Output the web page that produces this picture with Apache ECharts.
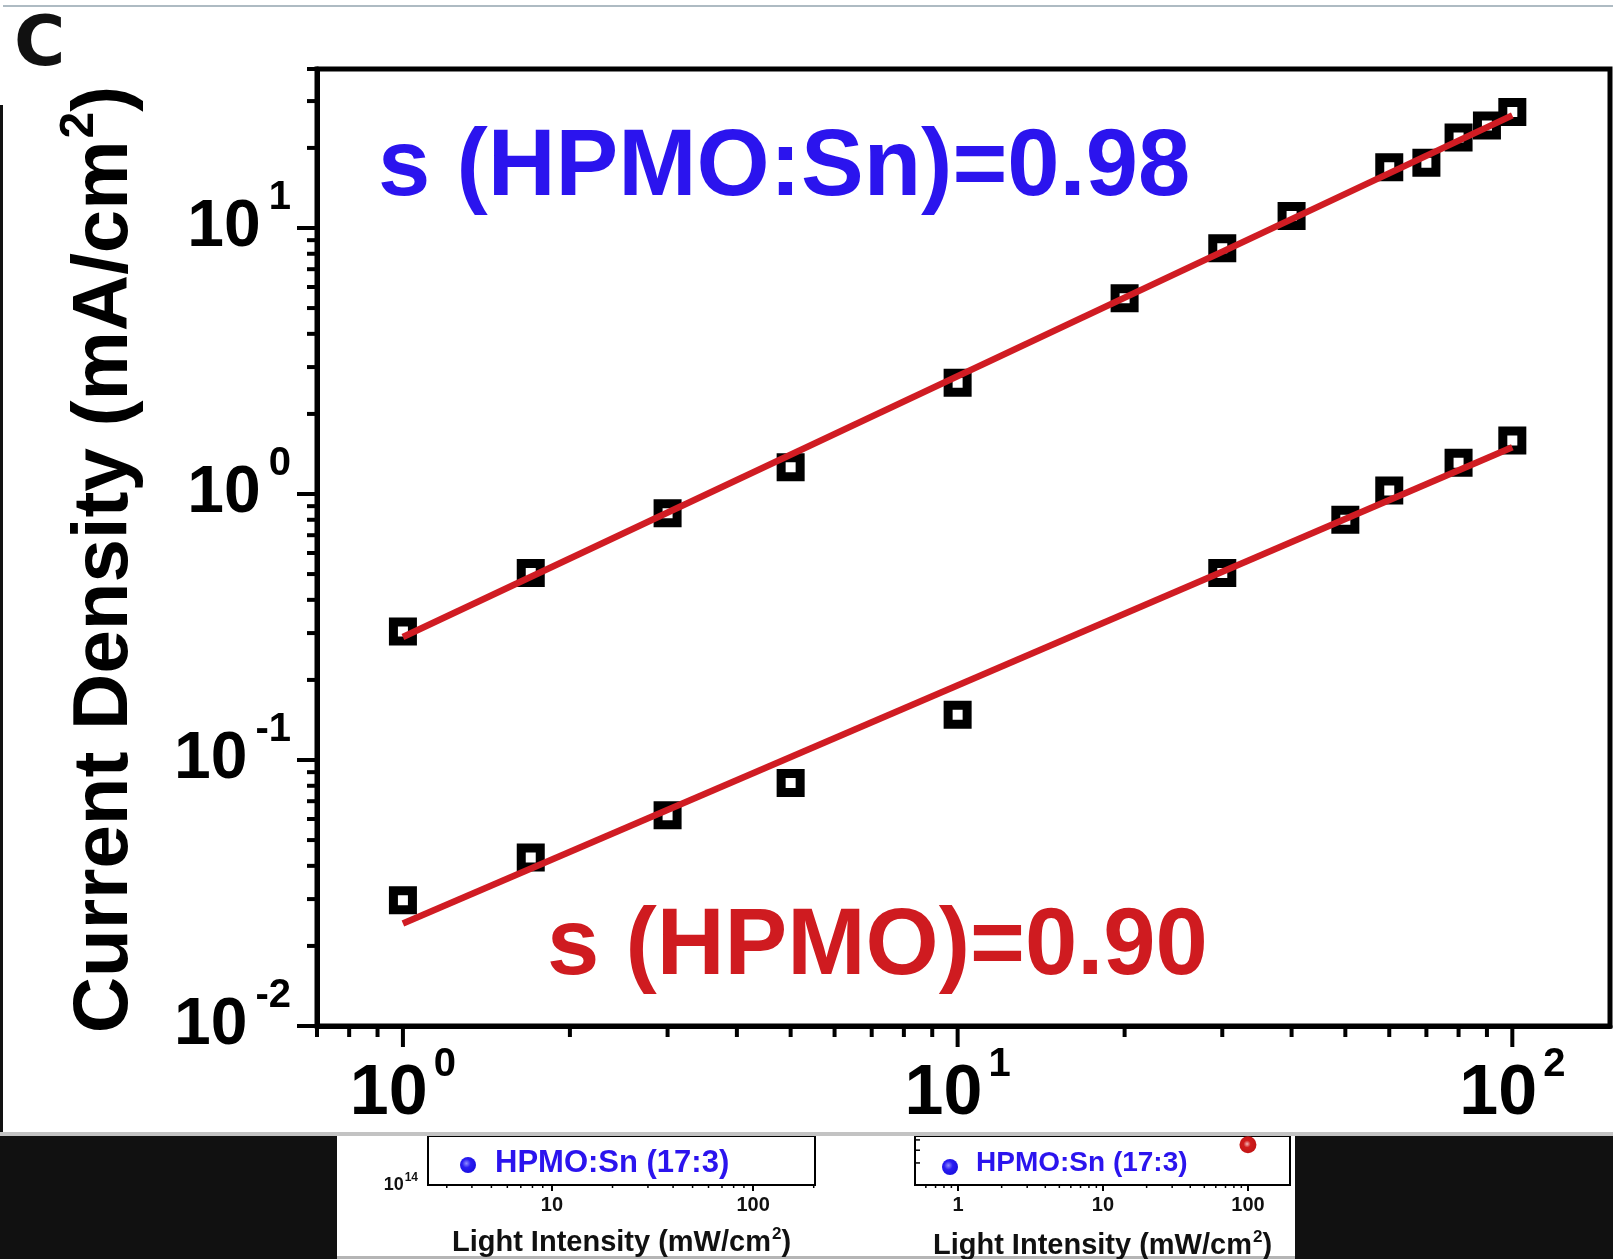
<!DOCTYPE html>
<html><head><meta charset="utf-8">
<script src="https://cdn.jsdelivr.net/npm/echarts@6/dist/echarts.min.js"></script>
<style>html,body{margin:0;padding:0;background:#fff}#c{width:1613px;height:1259px}</style>
</head><body><div id="c"></div>
<script>
// ---------------- data ----------------
const intensitySn = [1, 1.7, 3, 5, 10, 20, 30, 40, 60, 70, 80, 90, 100];
const currentSn   = [0.304, 0.505, 0.846, 1.26, 2.62, 5.44, 8.4, 11.1, 16.9, 17.6, 21.9, 24.3, 27.3];
const intensityHPMO = [1, 1.7, 3, 5, 10, 30, 50, 60, 80, 100];
const currentHPMO   = [0.0297, 0.043, 0.062, 0.082, 0.148, 0.505, 0.80, 1.03, 1.31, 1.59];
const fitSnX = [1, 100];
const fitSnY = [0.29, 26.5];
const fitHPMOX = [1, 100];
const fitHPMOY = [0.0243, 1.50];
const labelSn = 's (HPMO:Sn)=0.98';
const labelHPMO = 's (HPMO)=0.90';
const yAxisTitle = 'Current Density (mA/cm';
// tick values of main axes
const xMajorTicks = [1, 10, 100];
const xMinorTicks = [0.7, 0.8, 0.9, 2, 3, 4, 5, 6, 7, 8, 9, 20, 30, 40, 50, 60, 70, 80, 90];
const yMajorTicks = [0.01, 0.1, 1, 10];
const yMinorTicks = [0.02, 0.03, 0.04, 0.05, 0.06, 0.07, 0.08, 0.09, 0.2, 0.3, 0.4, 0.5, 0.6, 0.7, 0.8, 0.9,
                     2, 3, 4, 5, 6, 7, 8, 9, 20, 30, 39.6];
// bottom strip (parts of neighbouring panels)
const stripLegend = 'HPMO:Sn (17:3)';
const stripXTitle = 'Light Intensity (mW/cm';
const stripLeftMinor = [3, 4, 5, 6, 7, 8, 9, 20, 30, 40, 50, 60, 70, 80, 90, 200];
const stripRightMinor = [0.6, 0.7, 0.8, 0.9, 2, 3, 4, 5, 6, 7, 8, 9, 20, 30, 40, 50, 60, 70, 80, 90];
const stripRightYTicks = [0.45, 0.71, 0.92];
const stripRedPoint = [[100, 0.82]];

// ---------------- chart ----------------
const SANS = "'Liberation Sans', Arial, sans-serif";
const X_MIN = 0.7, X_MAX = 150, Y_MIN = 0.01, Y_MAX = 39.6;
const pairs = (xs, ys) => xs.map((x, i) => [x, ys[i]]);
const powLabel = v => '{b|10}{s|' + Math.round(Math.log10(v)) + '}';

function tickSeries(xi, yi, values, dir, fixed, len, width, z) {
  return {
    type: 'custom', xAxisIndex: xi, yAxisIndex: yi, silent: true, z: z, clip: false,
    data: values.map(v => dir === 'x' ? [v, fixed] : [fixed, v]),
    renderItem: (params, api) => {
      const p = api.coord([api.value(0), api.value(1)]);
      const shape = dir === 'x'
        ? { x1: p[0], y1: p[1], x2: p[0], y2: p[1] + len }
        : { x1: p[0], y1: p[1], x2: p[0] - len, y2: p[1] };
      return { type: 'line', shape: shape, style: { stroke: '#000', lineWidth: width } };
    }
  };
}

const mainRichY = {
  b: { fontSize: 66, fontFamily: SANS, fontWeight: 'bold', lineHeight: 66, color: '#000' },
  s: { fontSize: 40, fontFamily: SANS, fontWeight: 'bold', lineHeight: 40, padding: [0, 0, 60, 8], color: '#000' }
};
const mainRichX = {
  b: { fontSize: 70, fontFamily: SANS, fontWeight: 'bold', lineHeight: 70, color: '#000' },
  s: { fontSize: 40, fontFamily: SANS, fontWeight: 'bold', lineHeight: 40, padding: [0, 0, 60, 6], color: '#000' }
};
const stripNameRich = {
  n: { fontSize: 29, fontFamily: SANS, fontWeight: 'bold', lineHeight: 29, color: '#111' },
  s: { fontSize: 17, fontFamily: SANS, fontWeight: 'bold', lineHeight: 17, padding: [0, 0, 16, 1], color: '#111' }
};

const blueBall = new echarts.graphic.RadialGradient(0.4, 0.4, 0.6, [
  { offset: 0, color: '#8f8cff' }, { offset: 0.45, color: '#2a1cf2' }, { offset: 1, color: '#1a10e0' }]);
const redBall = new echarts.graphic.RadialGradient(0.45, 0.45, 0.6, [
  { offset: 0, color: '#f2b8b8' }, { offset: 0.35, color: '#d01c1c' }, { offset: 1, color: '#c01515' }]);

const option = {
  animation: false,
  backgroundColor: '#fff',
  grid: [
    { left: 317, right: 3, top: 69, bottom: 233, show: true, borderColor: '#000', borderWidth: 5, outerBoundsMode: 'none' },
    { left: 428, right: 798, top: 1136, bottom: 74, show: true, borderColor: '#000', borderWidth: 2, z: 60, outerBoundsMode: 'none' },
    { left: 915, right: 323, top: 1136, bottom: 74, show: true, borderColor: '#000', borderWidth: 2, z: 60, outerBoundsMode: 'none' }
  ],
  xAxis: [
    { type: 'log', gridIndex: 0, min: X_MIN, max: X_MAX, logBase: 10,
      axisLine: { onZero: false, lineStyle: { color: '#000', width: 5 } },
      axisTick: { show: false }, splitLine: { show: false },
      axisLabel: { interval: 0, formatter: powLabel, margin: 34, showMinLabel: false, showMaxLabel: false, rich: mainRichX } },
    { type: 'log', gridIndex: 1, min: 2.42, max: 203, z: 60,
      axisLine: { onZero: false, lineStyle: { color: '#000', width: 2 } },
      axisTick: { length: 6, lineStyle: { color: '#000', width: 2 } }, splitLine: { show: false },
      axisLabel: { interval: 0, margin: 10, showMinLabel: false, showMaxLabel: false, color: '#111',
        fontSize: 20, fontWeight: 'bold', fontFamily: SANS, formatter: v => String(Math.round(v)) },
      name: '{n|' + stripXTitle + '}{s|2}{n|)}', nameLocation: 'middle', nameGap: 43, nameTextStyle: { rich: stripNameRich } },
    { type: 'log', gridIndex: 2, min: 0.505, max: 195, z: 60,
      axisLine: { onZero: false, lineStyle: { color: '#000', width: 2 } },
      axisTick: { length: 6, lineStyle: { color: '#000', width: 2 } }, splitLine: { show: false },
      axisLabel: { interval: 0, margin: 10, showMinLabel: false, showMaxLabel: false, color: '#111',
        fontSize: 20, fontWeight: 'bold', fontFamily: SANS, formatter: v => String(Math.round(v)) },
      name: '{n|' + stripXTitle + '}{s|2}{n|)}', nameLocation: 'middle', nameGap: 46, nameTextStyle: { rich: stripNameRich } }
  ],
  yAxis: [
    { type: 'log', gridIndex: 0, min: Y_MIN, max: Y_MAX, logBase: 10,
      axisLine: { onZero: false, lineStyle: { color: '#000', width: 5 } },
      axisTick: { show: false }, splitLine: { show: false },
      axisLabel: { interval: 0, formatter: powLabel, margin: 26, showMaxLabel: false, rich: mainRichY },
      name: '{n|' + yAxisTitle + '}{s|2}{n|)}', nameLocation: 'middle', nameGap: 173,
      nameTextStyle: { padding: [0, 24, 0, 0], rich: {
        n: { fontSize: 78, fontFamily: SANS, fontWeight: 'bold', lineHeight: 78, color: '#000' },
        s: { fontSize: 48, fontFamily: SANS, fontWeight: 'bold', lineHeight: 48, padding: [0, 0, 50, 2], color: '#000' } } } },
    { type: 'log', gridIndex: 1, min: 1e14, max: 1e15, z: 60,
      axisLine: { onZero: false, lineStyle: { color: '#000', width: 2 } },
      axisTick: { show: false }, splitLine: { show: false },
      axisLabel: { interval: 0, margin: 10, showMaxLabel: false,
        formatter: v => '{a|10}{b|' + Math.round(Math.log10(v)) + '}',
        rich: { a: { fontSize: 18, fontFamily: SANS, fontWeight: 'bold', lineHeight: 18, color: '#111' },
                b: { fontSize: 12, fontFamily: SANS, fontWeight: 'bold', lineHeight: 12, padding: [0, 0, 14, 1], color: '#111' } } } },
    { type: 'value', gridIndex: 2, min: 0, max: 1, z: 60,
      axisLine: { onZero: false, lineStyle: { color: '#000', width: 2 } },
      axisTick: { show: false }, splitLine: { show: false }, axisLabel: { show: false } }
  ],
  series: [
    tickSeries(0, 0, xMajorTicks, 'x', Y_MIN, 21, 4, 2),
    tickSeries(0, 0, xMinorTicks, 'x', Y_MIN, 11, 4, 2),
    tickSeries(0, 0, yMajorTicks, 'y', X_MIN, 20, 4, 2),
    tickSeries(0, 0, yMinorTicks, 'y', X_MIN, 10, 4, 2),
    tickSeries(1, 1, stripLeftMinor, 'x', 1e14, 3, 1.5, 61),
    tickSeries(2, 2, stripRightMinor, 'x', 0, 3, 1.5, 61),
    tickSeries(2, 2, stripRightYTicks, 'y', 0.505, -5, 1.5, 61),
    { name: 'HPMO:Sn', type: 'scatter', xAxisIndex: 0, yAxisIndex: 0, data: pairs(intensitySn, currentSn),
      symbol: 'rect', symbolSize: 19, z: 2,
      itemStyle: { color: 'rgba(0,0,0,0)', borderColor: '#000', borderWidth: 9, opacity: 1 } },
    { name: 'HPMO', type: 'scatter', xAxisIndex: 0, yAxisIndex: 0, data: pairs(intensityHPMO, currentHPMO),
      symbol: 'rect', symbolSize: 19, z: 2,
      itemStyle: { color: 'rgba(0,0,0,0)', borderColor: '#000', borderWidth: 9, opacity: 1 } },
    { name: 'fit HPMO:Sn', type: 'line', xAxisIndex: 0, yAxisIndex: 0, data: pairs(fitSnX, fitSnY),
      showSymbol: false, z: 3, lineStyle: { color: '#d01c23', width: 6.5 } },
    { name: 'fit HPMO', type: 'line', xAxisIndex: 0, yAxisIndex: 0, data: pairs(fitHPMOX, fitHPMOY),
      showSymbol: false, z: 3, lineStyle: { color: '#d01c23', width: 6.5 } },
    { name: 'HPMO strip', type: 'scatter', xAxisIndex: 2, yAxisIndex: 2, data: stripRedPoint,
      symbol: 'circle', symbolSize: 17, z: 62, itemStyle: { color: redBall, opacity: 1 } }
  ],
  graphic: { elements: [
    { type: 'rect', shape: { x: 3, y: 5, width: 1610, height: 2 }, style: { fill: '#aebbc3' }, z: 1 },
    { type: 'rect', shape: { x: 0, y: 105, width: 3, height: 1030 }, style: { fill: '#111' }, z: 1 },
    { type: 'text', z: 1, style: { text: 'C', x: 14, y: 47, fontFamily: "'DejaVu Sans', sans-serif", fontWeight: 'bold',
        fontSize: 70, fill: '#111', verticalAlign: 'middle' } },
    { type: 'text', z: 5, style: { text: labelSn, x: 378, y: 169, fontFamily: SANS, fontWeight: 'bold',
        fontSize: 94, fill: '#2b14ee', verticalAlign: 'middle' } },
    { type: 'text', z: 5, style: { text: labelHPMO, x: 547, y: 948, fontFamily: SANS, fontWeight: 'bold',
        fontSize: 94, fill: '#cf1b20', verticalAlign: 'middle' } },
    // bottom strip
    { type: 'rect', shape: { x: 0, y: 1134, width: 1613, height: 125 }, style: { fill: '#111' }, z: 50 },
    { type: 'rect', shape: { x: 337, y: 1134, width: 958, height: 125 }, style: { fill: '#fff' }, z: 51 },
    { type: 'rect', shape: { x: 337, y: 1256, width: 958, height: 3 }, style: { fill: '#b5b5b5' }, z: 52 },
    { type: 'circle', shape: { cx: 468, cy: 1165, r: 8 }, style: { fill: blueBall }, z: 62 },
    { type: 'text', z: 62, style: { text: stripLegend, x: 495, y: 1163, fontFamily: SANS, fontWeight: 'bold',
        fontSize: 31, fill: '#2b14ee', verticalAlign: 'middle' } },
    { type: 'circle', shape: { cx: 950, cy: 1167, r: 8 }, style: { fill: blueBall }, z: 62 },
    { type: 'text', z: 62, style: { text: stripLegend, x: 976, y: 1163, fontFamily: SANS, fontWeight: 'bold',
        fontSize: 28, fill: '#2b14ee', verticalAlign: 'middle' } },
    { type: 'rect', shape: { x: 0, y: 1132, width: 1613, height: 4 }, style: { fill: '#c3c3c3' }, z: 70 }
  ] }
};
const chart = echarts.init(document.getElementById('c'));
chart.setOption(option);
</script>
</body></html>
